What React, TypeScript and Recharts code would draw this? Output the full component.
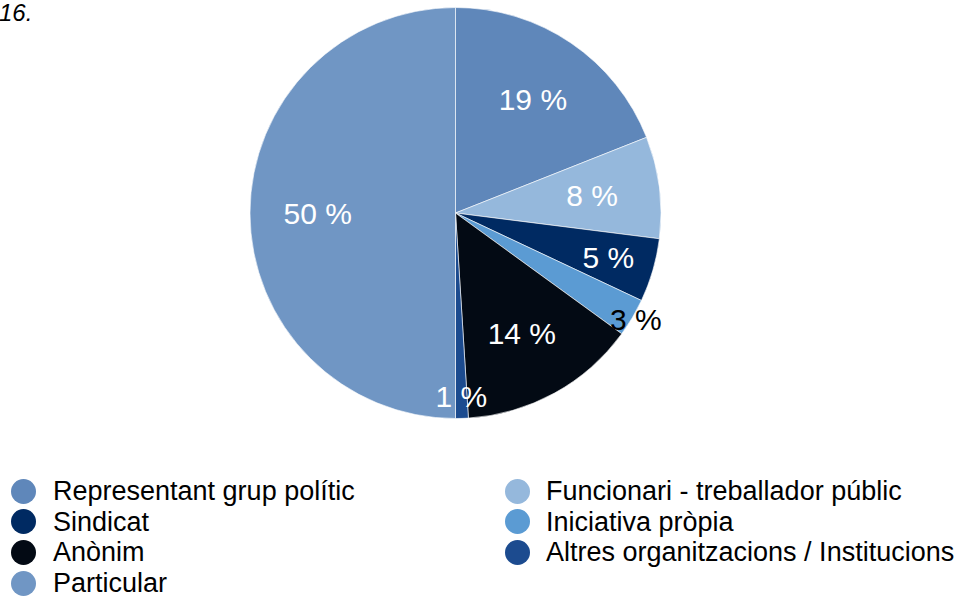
import React from "react";
import { PieChart, Pie, Cell, Legend } from "recharts";

const categories = [
  "Representant grup polític",
  "Funcionari - treballador públic",
  "Sindicat",
  "Iniciativa pròpia",
  "Anònim",
  "Altres organitzacions / Institucions",
  "Particular",
];
const values = [19, 8, 5, 3, 14, 1, 50];
const colors = ["#5f87ba", "#95b8dc", "#002a62", "#5b9bd3", "#030a14", "#1c4b8f", "#7096c4"];
const legendLeft = ["Representant grup polític", "Sindicat", "Anònim", "Particular"];
const legendRight = ["Funcionari - treballador públic", "Iniciativa pròpia", "Altres organitzacions / Institucions"];
const titleText = "16.";

const data = categories.map((name, i) => ({ name, value: values[i] }));
const FONT = "'Liberation Sans', Arial, Helvetica, sans-serif";
const RAD = Math.PI / 180;

const renderLabel = (props: any) => {
  const { cx, cy, midAngle, outerRadius, value } = props;
  let f = 0.67;
  if (value === 5) f = 0.775;
  else if (value === 3) f = 1.02;
  else if (value === 1) f = 0.895;
  const r = outerRadius * f;
  const x = cx + r * Math.cos(-midAngle * RAD);
  const y = cy + r * Math.sin(-midAngle * RAD);
  return (
    <text
      x={x}
      y={y}
      fill={value === 3 ? "#000" : "#fff"}
      textAnchor="middle"
      dominantBaseline="central"
      fontSize={30}
      fontFamily={FONT}
    >
      {`${value} %`}
    </text>
  );
};

const colorOf = (name: string) => colors[categories.indexOf(name)];

const LegendContent = () => {
  const col = (items: string[], left: number, textLeft: number) =>
    items.map((name, i) => (
      <div
        key={name}
        style={{ position: "absolute", left: 0, top: i * 30.7, height: 30, width: 480 }}
      >
        <div
          style={{
            position: "absolute",
            left: left - 12.5,
            top: 2.5,
            width: 25,
            height: 25,
            borderRadius: "50%",
            background: colorOf(name),
          }}
        />
        <div
          style={{
            position: "absolute",
            left: textLeft,
            top: 0,
            fontSize: 27,
            lineHeight: "30px",
            fontFamily: FONT,
            color: "#000",
            whiteSpace: "nowrap",
          }}
        >
          {name}
        </div>
      </div>
    ));
  return (
    <div style={{ position: "relative", width: 959, height: 130 }}>
      <div style={{ position: "absolute", left: 0, top: 0 }}>{col(legendLeft, 23, 53)}</div>
      <div style={{ position: "absolute", left: 494, top: 0 }}>{col(legendRight, 23, 52)}</div>
    </div>
  );
};

export default function App() {
  return (
    <div style={{ position: "absolute", left: 0, top: 0, width: 959, height: 603, background: "#fff" }}>
      <div
        style={{
          position: "absolute",
          left: -1,
          top: 1,
          fontSize: 24,
          lineHeight: "24px",
          fontStyle: "italic",
          fontFamily: FONT,
          color: "#000",
          zIndex: 2,
        }}
      >
        {titleText}
      </div>
      <PieChart width={959} height={603} margin={{ top: 0, right: 0, bottom: 0, left: 0 }}>
        <Pie
          data={data}
          dataKey="value"
          nameKey="name"
          cx={455.5}
          cy={213}
          outerRadius={205.5}
          startAngle={90}
          endAngle={-270}
          stroke="#ffffff"
          strokeWidth={0.6}
          label={renderLabel}
          labelLine={false}
          isAnimationActive={false}
        >
          {data.map((d, i) => (
            <Cell key={d.name} fill={colors[i]} />
          ))}
        </Pie>
        <Legend
          content={<LegendContent />}
          wrapperStyle={{ position: "absolute", left: 0, top: 476, width: 959, height: 130 }}
        />
      </PieChart>
    </div>
  );
}
